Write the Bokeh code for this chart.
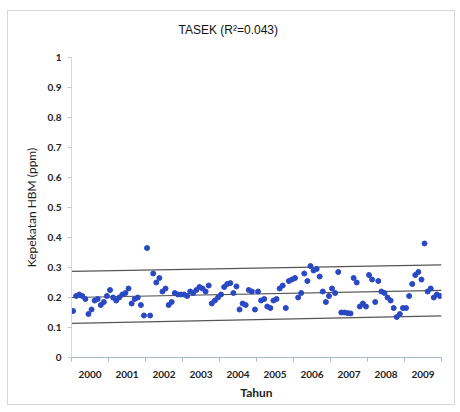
import numpy as np
from bokeh.plotting import figure
from bokeh.models import FixedTicker, NumeralTickFormatter, ColumnDataSource
from bokeh.embed import file_html
from bokeh.resources import INLINE

# Monthly HBM concentration (ppm) at Tasek, one list per year (Jan..Dec)
hbm_2000 = [0.155, 0.205, 0.21, 0.205, 0.195, 0.145, 0.16, 0.19, 0.195, 0.175, 0.185, 0.205]
hbm_2001 = [0.225, 0.20, 0.19, 0.20, 0.21, 0.215, 0.23, 0.18, 0.195, 0.20, 0.175, 0.14]
hbm_2002 = [0.365, 0.14, 0.28, 0.25, 0.265, 0.22, 0.23, 0.175, 0.185, 0.215, 0.21, 0.21]
hbm_2003 = [0.21, 0.205, 0.22, 0.215, 0.225, 0.235, 0.23, 0.22, 0.24, 0.18, 0.19, 0.20]
hbm_2004 = [0.21, 0.235, 0.245, 0.248, 0.215, 0.237, 0.16, 0.18, 0.175, 0.225, 0.22, 0.16]
hbm_2005 = [0.22, 0.19, 0.195, 0.17, 0.165, 0.19, 0.195, 0.23, 0.24, 0.165, 0.255, 0.26]
hbm_2006 = [0.265, 0.20, 0.215, 0.28, 0.255, 0.305, 0.29, 0.295, 0.27, 0.22, 0.185, 0.205]
hbm_2007 = [0.23, 0.215, 0.285, 0.15, 0.15, 0.148, 0.147, 0.265, 0.25, 0.17, 0.18, 0.17]
hbm_2008 = [0.275, 0.26, 0.185, 0.255, 0.22, 0.215, 0.20, 0.19, 0.165, 0.135, 0.145, 0.165]
hbm_2009 = [0.165, 0.205, 0.245, 0.275, 0.285, 0.26, 0.38, 0.22, 0.23, 0.20, 0.21, 0.205]

years = [2000, 2001, 2002, 2003, 2004, 2005, 2006, 2007, 2008, 2009]
year_labels = ["2000", "2001", "2002", "2003", "2004", "2005", "2006", "2007", "2008", "2009"]
chart_title = "TASEK (R\u00b2=0.043)"

# Linear trend and its prediction band (start / end of the period)
band_x = [2000, 2010]
trend_y = [0.200, 0.224]
upper_y = [0.287, 0.309]
lower_y = [0.114, 0.139]

y_ticks = [0, 0.1, 0.2, 0.3, 0.4, 0.5, 0.6, 0.7, 0.8, 0.9, 1]

series = [hbm_2000, hbm_2001, hbm_2002, hbm_2003, hbm_2004,
          hbm_2005, hbm_2006, hbm_2007, hbm_2008, hbm_2009]
xs, ys = [], []
for yr, vals in zip(years, series):
    for m, v in enumerate(vals):
        xs.append(yr + (m + 0.5) / 12)
        ys.append(v)
src = ColumnDataSource(dict(x=xs, y=ys))

p = figure(width=448, height=395, output_backend="svg", toolbar_location=None,
           x_range=(2000, 2010), y_range=(0, 1),
           min_border_left=63, min_border_right=15, min_border_top=46, min_border_bottom=49)
p.margin = (10, 0, 0, 7)
p.styles = {"border": "1px solid #d6d6d6"}

# title with a blank second line, which lifts it well clear of the plot area
p.title.text = chart_title + "\n"
p.title.align = "left"
p.title.offset = 107
p.title.text_font = "Liberation Sans"
p.title.text_font_size = "12px"
p.title.text_font_style = "normal"
p.title.text_color = "#111111"
p.title.standoff = 14

p.xgrid.visible = False
p.ygrid.visible = False
p.outline_line_color = None
p.background_fill_color = "white"
p.border_fill_color = "white"

for yy in (upper_y, trend_y, lower_y):
    p.line(band_x, yy, line_color="#555555", line_width=1.2)

p.scatter("x", "y", source=src, size=5, fill_color="#2b48c4", line_color="#2b48c4")

# x axis: labels centred in each year, ticks on year boundaries
xa = p.xaxis[0]
xa.ticker = FixedTicker(ticks=[y + 0.5 for y in years], minor_ticks=years + [2010])
xa.major_label_overrides = {y + 0.5: lab for y, lab in zip(years, year_labels)}
xa.major_tick_line_color = None
xa.major_tick_out = 0
xa.minor_tick_in = 0
xa.minor_tick_out = 4
xa.minor_tick_line_color = "#a8b8cc"
xa.axis_line_color = "#a8b8cc"
xa.major_label_standoff = 9
xa.major_label_text_font = "Lato"
xa.major_label_text_font_style = "bold"
xa.major_label_text_font_size = "10px"
xa.major_label_text_color = "#222222"
xa.axis_label = "Tahun"
xa.axis_label_text_font = "Lato"
xa.axis_label_text_font_style = "bold"
xa.axis_label_text_font_size = "12px"
xa.axis_label_text_color = "#222222"
xa.axis_label_standoff = 4

ya = p.yaxis[0]
ya.ticker = FixedTicker(ticks=y_ticks, minor_ticks=[])
ya.formatter = NumeralTickFormatter(format="0.[0]")
ya.major_tick_in = 0
ya.major_tick_out = 4
ya.major_tick_line_color = "#c8c8c8"
ya.axis_line_color = "#d0d8e4"
ya.major_label_standoff = 6
ya.major_label_text_font = "Lato"
ya.major_label_text_font_style = "bold"
ya.major_label_text_font_size = "10px"
ya.major_label_text_color = "#222222"
ya.axis_label = "Kepekatan HBM (ppm)"
ya.axis_label_text_font = "Lato"
ya.axis_label_text_font_style = "normal"
ya.axis_label_text_font_size = "12px"
ya.axis_label_text_color = "#222222"
ya.axis_label_standoff = 6

open("out.html", "w").write(file_html(p, INLINE))
